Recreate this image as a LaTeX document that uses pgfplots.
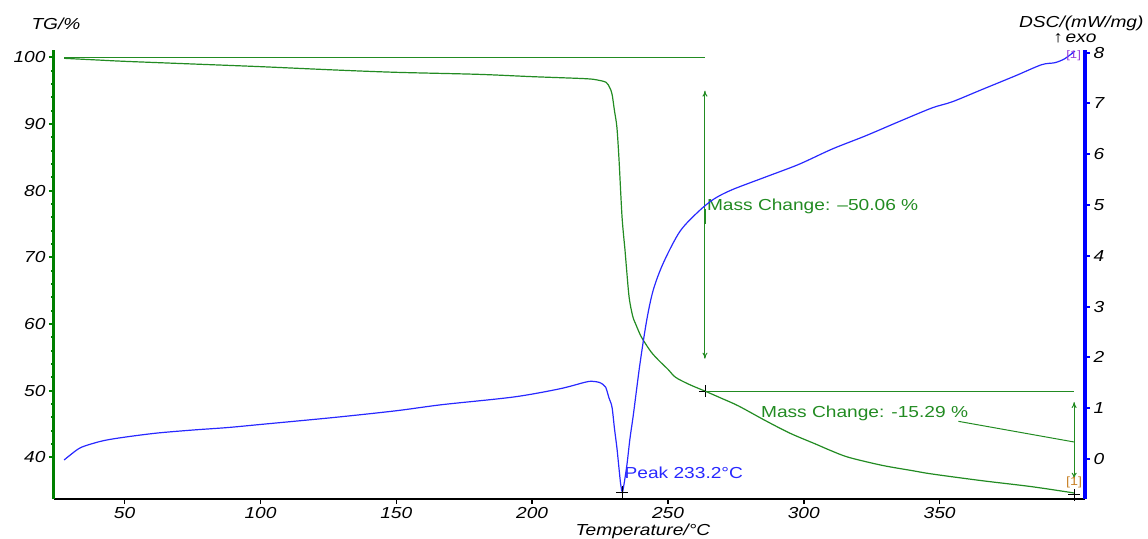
\documentclass[border=0pt]{standalone}
\usepackage{fontspec}
\setmainfont{Liberation Sans}[FakeStretch=1.2]
\usepackage{pgfplots}
\pgfplotsset{compat=1.18}
\usetikzlibrary{arrows.meta}

\definecolor{tgaxis}{RGB}{0,128,0}
\definecolor{tgline}{RGB}{34,139,34}
\definecolor{dscline}{RGB}{40,40,255}
\definecolor{tagorange}{RGB}{200,130,40}
\definecolor{tagpurple}{RGB}{150,60,220}

\pgfplotsset{
  common/.style={
    scale only axis, width=1031bp, height=449bp,
    xmin=24, xmax=403.5,
    axis line style={-},
    tick align=outside,
    major tick length=5bp, minor tick length=3bp,
    tick label style={font=\fontsize{16}{19}\selectfont\itshape},
    /pgf/number format/assume math mode=true,
    clip=false,
  },
}
\tikzset{crossmk/.style={black, line width=0.8bp}}
% cross at an axis point: \crossat{x}{y}
\newcommand\crossat[2]{%
  \draw[crossmk] ([xshift=-6bp]axis cs:#1,#2) -- ([xshift=6bp]axis cs:#1,#2);
  \draw[crossmk] ([yshift=-6bp]axis cs:#1,#2) -- ([yshift=6bp]axis cs:#1,#2);}

\begin{document}
\begin{tikzpicture}[font=\fontsize{16}{19}\selectfont,
  dbl/.style={{To[length=6bp,width=5bp]}-{To[length=6bp,width=5bp]}}]

% TG (left axis)
\begin{axis}[common,
  ymin=33.75, ymax=101.1,
  axis x line*=bottom, axis y line*=left,
  x axis line style={-, black, line width=2.5bp},
  y axis line style={-, tgaxis, line width=3bp},
  xtick={50,100,...,350}, ytick={40,50,...,100},
  minor y tick num=4,
  x tick style={black, line width=1.5bp},
  y tick style={tgaxis, line width=2bp},
]
\addplot[tgline, line width=1.2bp, smooth, tension=0.5] coordinates {
  (27.7,99.85) (40,99.6) (50,99.4) (75,99.0) (100,98.6) (127.5,98.1)
  (150,97.75) (180,97.45) (200,97.1) (219.4,96.8) (224,96.6) (227.2,96.25)
  (228.5,95.5) (229.4,94.5) (230.3,92) (231.2,89.5) (232,84.5) (233.1,76)
  (234.2,71) (234.6,69) (235.7,64) (237,61.2) (238.1,60) (240,58.2)
  (241.8,57) (244,55.7) (246.7,54.5) (250,53.2) (252.8,52) (258,50.9)
  (263.6,49.94) (270,48.8) (276,47.7) (285.9,45.5) (295,43.6) (304.3,42.0)
  (310,41) (316.5,40.0) (328.8,38.8) (340,38.0) (347.2,37.5) (365.5,36.5)
  (383.9,35.6) (399.5,34.65)
};
% step 1
\draw[tgline, line width=1bp] (axis cs:27.7,100) -- (axis cs:263.6,100);
\draw[tgline, line width=1bp, dbl] (axis cs:263.6,95.0) -- (axis cs:263.6,54.8);
\draw[tgline, line width=2.5bp] (axis cs:263.6,77.3) -- (axis cs:263.6,75.0);
\node[anchor=west, text=tgline, inner sep=0pt] at (axis cs:264.3,77.7) {Mass Change: --50.06 \%};
\crossat{263.6}{49.94}
% step 2
\draw[tgline, line width=1bp] (axis cs:263.6,49.94) -- (axis cs:399.5,49.94);
\draw[tgline, line width=1bp, dbl] (axis cs:399.5,48.3) -- (axis cs:399.5,36.8);
\node[anchor=west, text=tgline, inner sep=0pt] at (axis cs:284.2,46.6) {Mass Change: -15.29 \%};
\draw[tgline, line width=1bp] (axis cs:356.9,45.4) -- (axis cs:399.5,42.3);
\node[text=tagorange, inner sep=0pt, font=\fontsize{12}{13}\selectfont] at (axis cs:399.5,36.3) {[1]};
\crossat{399.5}{34.4}
\end{axis}

% DSC (right axis)
\begin{axis}[common,
  ymin=-0.787, ymax=8.05,
  axis x line=none, axis y line*=right,
  y axis line style={-, blue, line width=4bp},
  ytick={0,1,...,8},
  y tick style={blue, line width=2bp},
]
\addplot[dscline, line width=1.2bp, smooth, tension=0.5] coordinates {
  (27.7,-0.02) (30,0.08) (33,0.2) (35.5,0.26) (42.1,0.36) (50,0.43)
  (61.8,0.51) (75,0.57) (88.1,0.62) (100,0.68) (127.5,0.82) (150,0.95)
  (166.9,1.07) (193.1,1.22) (210,1.38) (219.4,1.51) (222,1.53) (224.6,1.51)
  (226,1.47) (227.1,1.41) (228.3,1.2) (229.4,1.02) (230.3,0.6) (231.2,0.22)
  (232,-0.2) (232.6,-0.5) (233.2,-0.65) (233.8,-0.5) (234.9,-0.11) (236,0.4)
  (237.3,0.89) (239.7,1.88) (242.2,2.74) (244.6,3.33) (248.3,3.86) (254.4,4.48)
  (261.4,4.88) (267,5.12) (273.6,5.3) (285.9,5.55) (298.2,5.8) (310.4,6.1) (322.7,6.36)
  (335,6.64) (347.2,6.91) (354.6,7.03) (365.5,7.27) (377.8,7.54) (387.5,7.76)
  (392.4,7.8) (396.1,7.88) (399.8,8.03)
};
\crossat{233.2}{-0.65}
\node[anchor=west, text=dscline, inner sep=0pt] at (axis cs:234.0,-0.28) {Peak 233.2°C};
\node[text=tagpurple, inner sep=0pt, font=\fontsize{11}{12}\selectfont] at (axis cs:399.3,7.93) {[1]};
\end{axis}

% titles
\node at (2bp,475bp) {\itshape TG/\%};
\node[anchor=east] at (1093bp,476bp) {\itshape DSC/(mW/mg)};
\node at (1021bp,461bp) {↑\,\itshape exo};
\node at (589bp,-32bp) {\itshape Temperature/°C};

\pgfresetboundingbox
\path (-54bp,-40bp) rectangle (1094bp,499bp);
\end{tikzpicture}
\end{document}
